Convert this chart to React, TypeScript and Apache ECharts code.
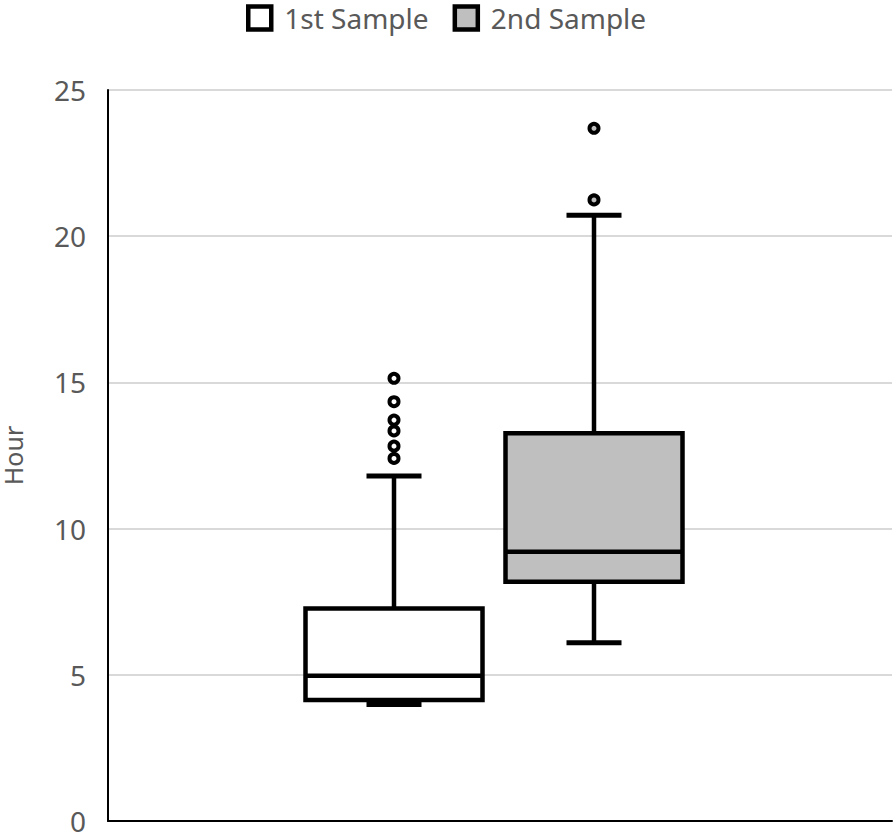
import React, { useEffect, useRef } from "react";
import * as echarts from "echarts";

const seriesNames = ["1st Sample", "2nd Sample"];
const seriesFill = ["#ffffff", "#bfbfbf"];
// [low whisker, Q1, median, Q3, high whisker]
const sample1Box = [3.98, 4.14, 4.97, 7.27, 11.8];
const sample2Box = [6.1, 8.18, 9.21, 13.26, 20.72];
const sample1Outliers = [12.4, 12.82, 13.34, 13.71, 14.34, 15.14];
const sample2Outliers = [21.24, 23.69];
const yTicks = { min: 0, max: 25, interval: 5 };
const yAxisTitle = "Hour";

const TEXT = "#595959";
const FONT = "Noto Sans";

export default function App() {
  const ref = useRef<HTMLDivElement>(null);
  useEffect(() => {
    if (!ref.current) return;
    const chart = echarts.init(ref.current, null, { renderer: "svg" });
    const boxes = [sample1Box, sample2Box];
    const outliers = [sample1Outliers, sample2Outliers];

    const renderItem = (params: any, api: any) => {
      const x = api.value(0);
      const lo = api.coord([x, api.value(1)]);
      const q1 = api.coord([x, api.value(2)]);
      const md = api.coord([x, api.value(3)]);
      const q3 = api.coord([x, api.value(4)]);
      const hi = api.coord([x, api.value(5)]);
      const band = api.size([1, 0])[0];
      const bw = band * 0.885;
      const cw = band * 0.275;
      const cx = md[0];
      const fill = seriesFill[params.seriesIndex % 2];
      const ls = { stroke: "#000", lineWidth: 4.5 };
      return {
        type: "group",
        children: [
          { type: "line", shape: { x1: cx, y1: q1[1], x2: cx, y2: lo[1] }, style: ls },
          { type: "line", shape: { x1: cx, y1: q3[1], x2: cx, y2: hi[1] }, style: ls },
          { type: "line", shape: { x1: cx - cw / 2, y1: lo[1], x2: cx + cw / 2, y2: lo[1] }, style: { stroke: "#000", lineWidth: 5 } },
          { type: "line", shape: { x1: cx - cw / 2, y1: hi[1], x2: cx + cw / 2, y2: hi[1] }, style: { stroke: "#000", lineWidth: 5 } },
          {
            type: "rect",
            shape: { x: cx - bw / 2, y: q3[1], width: bw, height: q1[1] - q3[1] },
            style: { fill, stroke: "#000", lineWidth: 4.5 },
          },
          { type: "line", shape: { x1: cx - bw / 2, y1: md[1], x2: cx + bw / 2, y2: md[1] }, style: ls },
        ],
      };
    };

    const series: any[] = [];
    boxes.forEach((b, i) => {
      series.push({
        name: seriesNames[i],
        type: "custom",
        xAxisIndex: 1,
        yAxisIndex: 1,
        renderItem,
        encode: { x: 0, y: [1, 2, 3, 4, 5] },
        data: [[i, ...b]],
        itemStyle: { color: seriesFill[i], borderColor: "#000" },
        z: 3,
      });
    });
    outliers.forEach((o, i) => {
      series.push({
        name: seriesNames[i],
        type: "scatter",
        xAxisIndex: 1,
        yAxisIndex: 1,
        symbol: "circle",
        symbolSize: 9,
        itemStyle: { color: seriesFill[i], borderColor: "#000", borderWidth: 4, opacity: 1 },
        data: o.map((v) => [i, v]),
        z: 4,
      });
    });

    chart.setOption({
      animation: false,
      backgroundColor: "#ffffff",
      legend: {
        top: 4,
        left: 246,
        padding: 0,
        itemWidth: 23,
        itemHeight: 23,
        itemGap: 24,
        icon: "rect",
        textStyle: { color: TEXT, fontSize: 28, fontFamily: FONT, padding: [0, 0, 0, 8] },
        data: seriesNames.map((n, i) => ({
          name: n,
          icon: "rect",
          itemStyle: { color: seriesFill[i], borderColor: "#000", borderWidth: 4.5 },
        })),
      },
      grid: [
        { left: 108, right: 2, top: 90, bottom: 15, outerBoundsMode: "none", containLabel: false },
        { left: 294, right: 200, top: 90, bottom: 15, outerBoundsMode: "none", containLabel: false },
      ],
      xAxis: [
        {
          type: "category",
          gridIndex: 0,
          data: [""],
          axisLine: { show: true, lineStyle: { color: "#000", width: 2 } },
          axisTick: { show: false },
          axisLabel: { show: false },
          splitLine: { show: false },
        },
        {
          type: "category",
          gridIndex: 1,
          data: seriesNames,
          boundaryGap: true,
          axisLine: { show: false },
          axisTick: { show: false },
          axisLabel: { show: false },
          splitLine: { show: false },
        },
      ],
      yAxis: [
        {
          type: "value",
          gridIndex: 0,
          min: yTicks.min,
          max: yTicks.max,
          interval: yTicks.interval,
          name: yAxisTitle,
          nameLocation: "middle",
          nameRotate: 90,
          nameGap: 83,
          nameTextStyle: { color: TEXT, fontSize: 25, fontFamily: FONT },
          axisLine: { show: true, lineStyle: { color: "#000", width: 2 } },
          axisTick: { show: false },
          axisLabel: { color: TEXT, fontSize: 28, fontFamily: FONT, margin: 22 },
          splitLine: { show: true, lineStyle: { color: "#d9d9d9", width: 2 } },
        },
        {
          type: "value",
          gridIndex: 1,
          min: yTicks.min,
          max: yTicks.max,
          interval: yTicks.interval,
          axisLine: { show: false },
          axisTick: { show: false },
          axisLabel: { show: false },
          splitLine: { show: false },
        },
      ],
      series,
    });
    return () => chart.dispose();
  }, []);

  return (
    <div
      ref={ref}
      style={{ position: "fixed", left: 0, top: 0, width: 894, height: 836, background: "#fff" }}
    />
  );
}
